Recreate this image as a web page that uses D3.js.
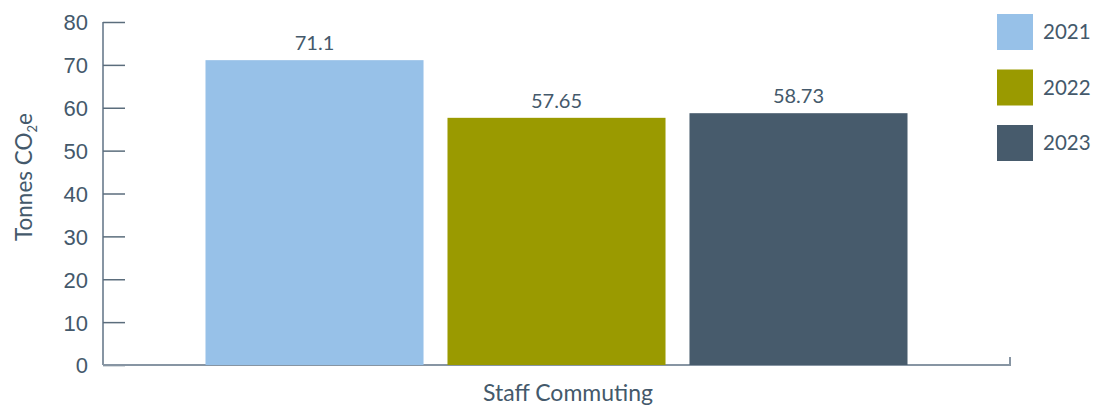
<!DOCTYPE html>
<html>
<head>
<meta charset="utf-8">
<script src="https://cdn.jsdelivr.net/npm/d3@7"></script>
<style>
  body { margin: 0; background: #fff; }
  svg { font-family: Lato, "Open Sans", sans-serif; }
  .tick text { fill: #44596b; font-size: 22px; }
</style>
</head>
<body>
<svg id="chart" width="1098" height="410"></svg>
<script>
// data
var categories = ['Staff Commuting'];
var years = ['2021', '2022', '2023'];
var values = [71.1, 57.65, 58.73];
var valueLabels = ['71.1', '57.65', '58.73'];
var yTicks = [0, 10, 20, 30, 40, 50, 60, 70, 80];
var colors = ['#97c1e8', '#9a9a00', '#475b6c'];

var svg = d3.select('#chart');
var textCol = '#44596b', axisCol = '#8795a3';

var x0 = d3.scaleBand().domain(categories).range([103, 1010]).paddingInner(0).paddingOuter(0.146);
var x1 = d3.scaleBand().domain(years).range([0, x0.bandwidth()]).paddingInner(0.099).paddingOuter(0);
var y = d3.scaleLinear().domain([0, 80]).range([365, 22]);

// y axis
var yAxis = svg.append('g').attr('transform', 'translate(103,0)')
  .call(d3.axisRight(y).tickValues(yTicks).tickSize(22).tickFormat(d3.format('d')));
yAxis.select('.domain').attr('stroke', axisCol).attr('stroke-width', 2).attr('d', 'M0,22V365');
yAxis.selectAll('.tick line').attr('stroke', '#5b6d7c').attr('stroke-width', 1.5);
yAxis.selectAll('.tick text').attr('x', -15).attr('text-anchor', 'end').attr('dy', '0.36em');

// bottom axis line
svg.append('path').attr('d', 'M103,365H1010V357').attr('fill', 'none')
  .attr('stroke', axisCol).attr('stroke-width', 2);

// bars
var g = svg.append('g').attr('transform', 'translate(' + x0(categories[0]) + ',0)');
g.selectAll('rect').data(years).enter().append('rect')
  .attr('x', function(d){ return x1(d) })
  .attr('y', function(d, i){ return y(values[i]) })
  .attr('width', x1.bandwidth())
  .attr('height', function(d, i){ return y(0) - y(values[i]) })
  .attr('fill', function(d, i){ return colors[i] });

g.selectAll('.val').data(years).enter().append('text').attr('class', 'val')
  .attr('x', function(d){ return x1(d) + x1.bandwidth() / 2 })
  .attr('y', function(d, i){ return y(values[i]) - 10 })
  .attr('text-anchor', 'middle').attr('font-size', 20).attr('fill', textCol)
  .text(function(d, i){ return valueLabels[i] });

// axis titles
svg.append('text').attr('x', 568).attr('y', 401).attr('text-anchor', 'middle')
  .attr('font-size', 23).attr('fill', textCol).text(categories[0]);

var yl = svg.append('text').attr('transform', 'translate(32,177) rotate(-90)')
  .attr('text-anchor', 'middle').attr('font-size', 22.5).attr('fill', textCol);
yl.append('tspan').text('Tonnes CO');
yl.append('tspan').attr('font-size', 13).attr('dy', 5).text('2');
yl.append('tspan').attr('dy', -5).text('e');

// legend
var leg = svg.selectAll('.leg').data(years).enter().append('g').attr('class', 'leg')
  .attr('transform', function(d, i){ return 'translate(997,' + (14 + i * 55.5) + ')' });
leg.append('rect').attr('width', 36).attr('height', 36).attr('fill', function(d, i){ return colors[i] });
leg.append('text').attr('x', 46).attr('y', 18).attr('dy', '0.36em')
  .attr('font-size', 20.5).attr('fill', textCol).text(function(d){ return d });
</script>
</body>
</html>
